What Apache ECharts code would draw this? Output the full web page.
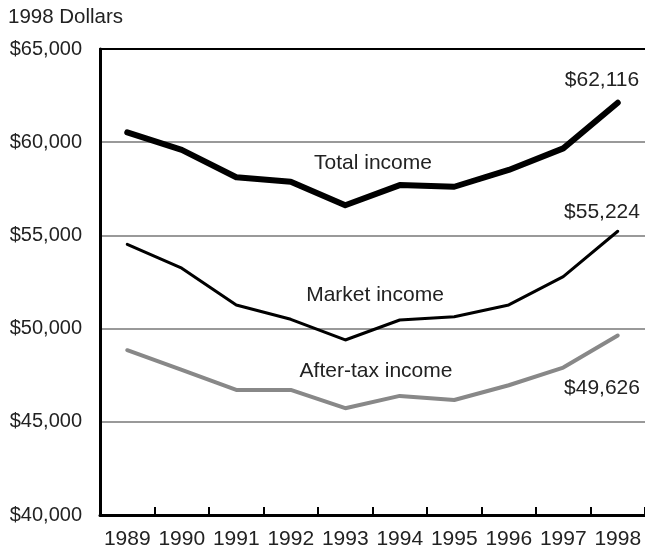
<!DOCTYPE html>
<html>
<head>
<meta charset="utf-8">
<script src="https://cdn.jsdelivr.net/npm/echarts@6/dist/echarts.min.js"></script>
<style>html,body{margin:0;padding:0;background:#fff;}#c{width:645px;height:554px;}</style>
</head>
<body>
<div id="c"></div>
<script>
var years = ['1989','1990','1991','1992','1993','1994','1995','1996','1997','1998'];
var totalIncome = [60530, 59590, 58120, 57880, 56620, 57700, 57610, 58510, 59670, 62116];
var marketIncome = [54520, 53240, 51270, 50500, 49390, 50460, 50640, 51270, 52790, 55224];
var afterTaxIncome = [48840, 47790, 46710, 46710, 45730, 46390, 46170, 46960, 47910, 49626];
var yTicks = [40000, 45000, 50000, 55000, 60000, 65000];
var seriesNames = ['Total income', 'Market income', 'After-tax income'];
var endLabels = ['$62,116', '$55,224', '$49,626'];

var FONT = 'Liberation Sans, Arial, Helvetica, sans-serif';
var TXT = '#222';
var FS = 21;
function fmt(v){ return '$' + v.toLocaleString('en-US'); }

var chart = echarts.init(document.getElementById('c'), null, {renderer:'canvas'});
chart.setOption({
  animation: false,
  backgroundColor: '#fff',
  grid: {left: 100, right: 0, top: 49, bottom: 39, containLabel: false},
  xAxis: [{
    type: 'category', data: years, boundaryGap: true, position: 'bottom',
    axisLine: {show: true, lineStyle: {color: '#000', width: 3}},
    axisTick: {show: true, inside: true, length: 8, interval: 0, lineStyle: {color: '#000', width: 2}},
    axisLabel: {color: TXT, fontSize: FS, fontFamily: FONT, margin: 14, interval: 0, hideOverlap: false},
    splitLine: {show: false}
  }, {
    type: 'category', data: years, position: 'top',
    axisLine: {show: true, lineStyle: {color: '#000', width: 2}},
    axisTick: {show: false}, axisLabel: {show: false}
  }],
  yAxis: {
    type: 'value', min: yTicks[0], max: yTicks[yTicks.length-1], interval: 5000,
    axisLine: {show: true, lineStyle: {color: '#000', width: 3}},
    axisTick: {show: false},
    axisLabel: {color: TXT, fontSize: 20, fontFamily: FONT, margin: 18, formatter: fmt},
    splitLine: {show: true, lineStyle: {color: '#999', width: 2}}
  },
  series: [
    {name: seriesNames[0], type: 'line', data: totalIncome, symbol: 'none',
     lineStyle: {color: '#000', width: 6, join: 'round', cap: 'round'}},
    {name: seriesNames[1], type: 'line', data: marketIncome, symbol: 'none',
     lineStyle: {color: '#000', width: 3, cap: 'round'}},
    {name: seriesNames[2], type: 'line', data: afterTaxIncome, symbol: 'none',
     lineStyle: {color: '#888', width: 4, cap: 'round'}}
  ],
  graphic: [
    {type: 'text', left: 8, top: 7, style: {text: '1998 Dollars', fill: TXT, font: '20.5px ' + FONT}},
    {type: 'text', x: 373, y: 163, style: {text: seriesNames[0], fill: TXT, font: FS + 'px ' + FONT, textAlign: 'center', textVerticalAlign: 'middle'}},
    {type: 'text', x: 375, y: 295, style: {text: seriesNames[1], fill: TXT, font: FS + 'px ' + FONT, textAlign: 'center', textVerticalAlign: 'middle'}},
    {type: 'text', x: 376, y: 371, style: {text: seriesNames[2], fill: TXT, font: FS + 'px ' + FONT, textAlign: 'center', textVerticalAlign: 'middle'}},
    {type: 'text', x: 602, y: 80, style: {text: endLabels[0], fill: TXT, font: FS + 'px ' + FONT, textAlign: 'center', textVerticalAlign: 'middle'}},
    {type: 'text', x: 602, y: 212, style: {text: endLabels[1], fill: TXT, font: FS + 'px ' + FONT, textAlign: 'center', textVerticalAlign: 'middle'}},
    {type: 'text', x: 602, y: 388, style: {text: endLabels[2], fill: TXT, font: FS + 'px ' + FONT, textAlign: 'center', textVerticalAlign: 'middle'}}
  ]
});
</script>
</body>
</html>
